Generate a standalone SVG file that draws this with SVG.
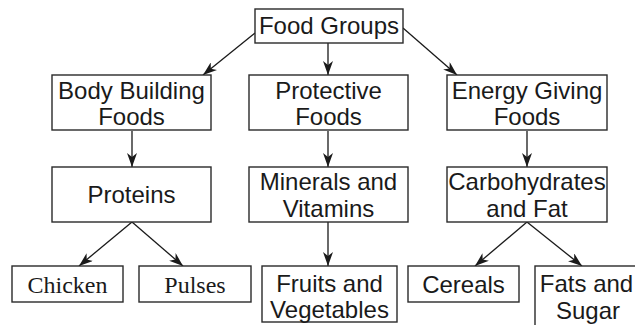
<svg xmlns="http://www.w3.org/2000/svg" width="635" height="325" viewBox="0 0 635 325">
<defs>
<marker id="ah" viewBox="0 0 14 10" refX="14" refY="5" markerWidth="14" markerHeight="10" markerUnits="userSpaceOnUse" orient="auto">
<path d="M0,0 L14,5 L0,10 L4,5 Z" fill="#1a1a1a"/>
</marker>
</defs>
<style>
rect{fill:#fff;stroke:#2a2a2a;stroke-width:1.4}
text{font-family:"Liberation Sans",Arial,sans-serif;font-size:24px;fill:#1a1a1a;text-anchor:middle}
text.s{font-family:"Liberation Serif","Times New Roman",serif}
#connectors line{stroke:#1a1a1a;stroke-width:1.3;marker-end:url(#ah)}
</style>
<rect x="0" y="0" width="635" height="325" style="fill:#fff;stroke:none"/>
<g id="connectors">
<line x1="255" y1="33" x2="203" y2="75"/>
<line x1="328" y1="43" x2="328" y2="75"/>
<line x1="403" y1="28" x2="457" y2="75"/>
<line x1="132" y1="131" x2="132" y2="167"/>
<line x1="328" y1="131" x2="328" y2="167"/>
<line x1="527" y1="131" x2="527" y2="167"/>
<line x1="132" y1="222" x2="79" y2="266"/>
<line x1="132" y1="222" x2="183" y2="266"/>
<line x1="328" y1="222" x2="328" y2="266"/>
<line x1="527" y1="222" x2="475" y2="266"/>
<line x1="527" y1="222" x2="582" y2="266"/>
</g>
<g id="food-groups"><rect x="255" y="9" width="148" height="34"/><text x="329" y="34">Food Groups</text></g>
<g id="body-building"><rect x="52" y="75" width="159" height="55"/><text x="131.5" y="99">Body Building</text><text x="131.5" y="125">Foods</text></g>
<g id="protective"><rect x="249" y="75" width="159" height="55"/><text x="328.5" y="99">Protective</text><text x="328.5" y="125">Foods</text></g>
<g id="energy-giving"><rect x="447" y="75" width="160" height="55"/><text x="527" y="99">Energy Giving</text><text x="527" y="125">Foods</text></g>
<g id="proteins"><rect x="52" y="167" width="159" height="55"/><text x="131.5" y="203">Proteins</text></g>
<g id="minerals"><rect x="249" y="167" width="159" height="55"/><text x="328.5" y="190">Minerals and</text><text x="328.5" y="217">Vitamins</text></g>
<g id="carbohydrates"><rect x="447" y="167" width="160" height="55"/><text x="527" y="190">Carbohydrates</text><text x="527" y="217">and Fat</text></g>
<g id="chicken"><rect x="12" y="266" width="111" height="36"/><text class="s" x="67.5" y="293">Chicken</text></g>
<g id="pulses"><rect x="139" y="266" width="112" height="36"/><text class="s" x="195" y="293">Pulses</text></g>
<g id="fruits"><rect x="262" y="266" width="135" height="56"/><text x="329.5" y="292">Fruits and</text><text x="329.5" y="318">Vegetables</text></g>
<g id="cereals"><rect x="408" y="266" width="111" height="36"/><text x="463.5" y="293">Cereals</text></g>
<g id="fats"><rect x="535" y="266" width="112" height="62"/><text x="586.5" y="292">Fats and</text><text x="588" y="319">Sugar</text></g>
</svg>
